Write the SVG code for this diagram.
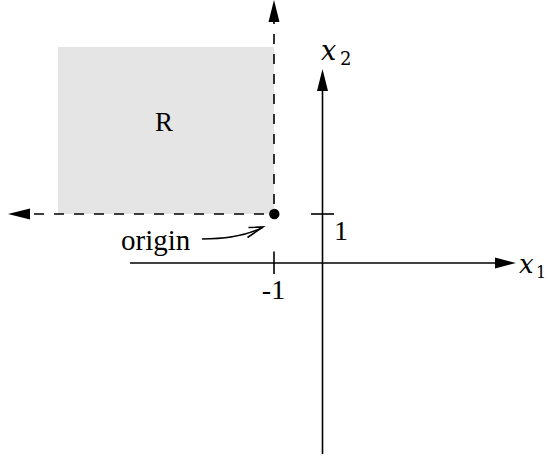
<svg xmlns="http://www.w3.org/2000/svg" width="548" height="461" viewBox="0 0 548 461">
<style>
.ln{stroke:#000;stroke-width:1.6;fill:none}
.dash{stroke:#000;stroke-width:1.6;fill:none;stroke-dasharray:10 10}
.ah{fill:#000;stroke:none}
.t{font-family:"Liberation Serif","Times New Roman",serif;fill:#000}
.m{font-family:"DejaVu Serif",serif;font-style:italic;fill:#000}
.s{font-family:"DejaVu Serif",serif;fill:#000}
</style>
<rect id="region-R" x="58" y="47" width="216" height="167" fill="#e5e5e5"/>
<g id="connectors">
  <path class="dash" d="M274 214 H30" stroke-dashoffset="10"/>
  <polygon class="ah" points="8,214 30,208.5 30,219.5"/>
  <path class="dash" d="M274 214 V18" stroke-dashoffset="10"/>
  <polygon class="ah" points="274,0 268.5,22 279.5,22"/>
  <path class="ln" d="M130 263 H497"/>
  <polygon class="ah" points="516,263 495,257.5 495,268.5"/>
  <path class="ln" d="M322.5 454 V88"/>
  <polygon class="ah" points="322.5,69 317,91 328,91"/>
  <path class="ln" d="M274 251.5 V274"/>
  <path class="ln" d="M311 214 H334"/>
  <path class="ln" stroke-width="1.3" d="M202 239 Q240 239 262.5 227.5"/>
  <path class="ln" stroke-width="1.3" d="M248.5 227.5 L263 227 L247.5 237.5"/>
</g>
<g id="origin-point"><circle cx="274.3" cy="214" r="5.2" fill="#000"/></g>
<g id="label-R"><text class="t" x="164" y="131" font-size="27" text-anchor="middle">R</text></g>
<g id="label-origin"><text class="t" x="121" y="250" font-size="29">origin</text></g>
<g id="label-1"><text class="t" x="341" y="240" font-size="28" text-anchor="middle">1</text></g>
<g id="label-m1"><text class="t" x="273.5" y="299" font-size="28" text-anchor="middle">-1</text></g>
<g id="label-x1"><text class="m" x="519" y="273" font-size="26">x</text><text class="s" x="536" y="278" font-size="16">1</text></g>
<g id="label-x2"><text class="m" x="321" y="60" font-size="27">x</text><text class="s" x="340" y="65" font-size="18">2</text></g>
</svg>
